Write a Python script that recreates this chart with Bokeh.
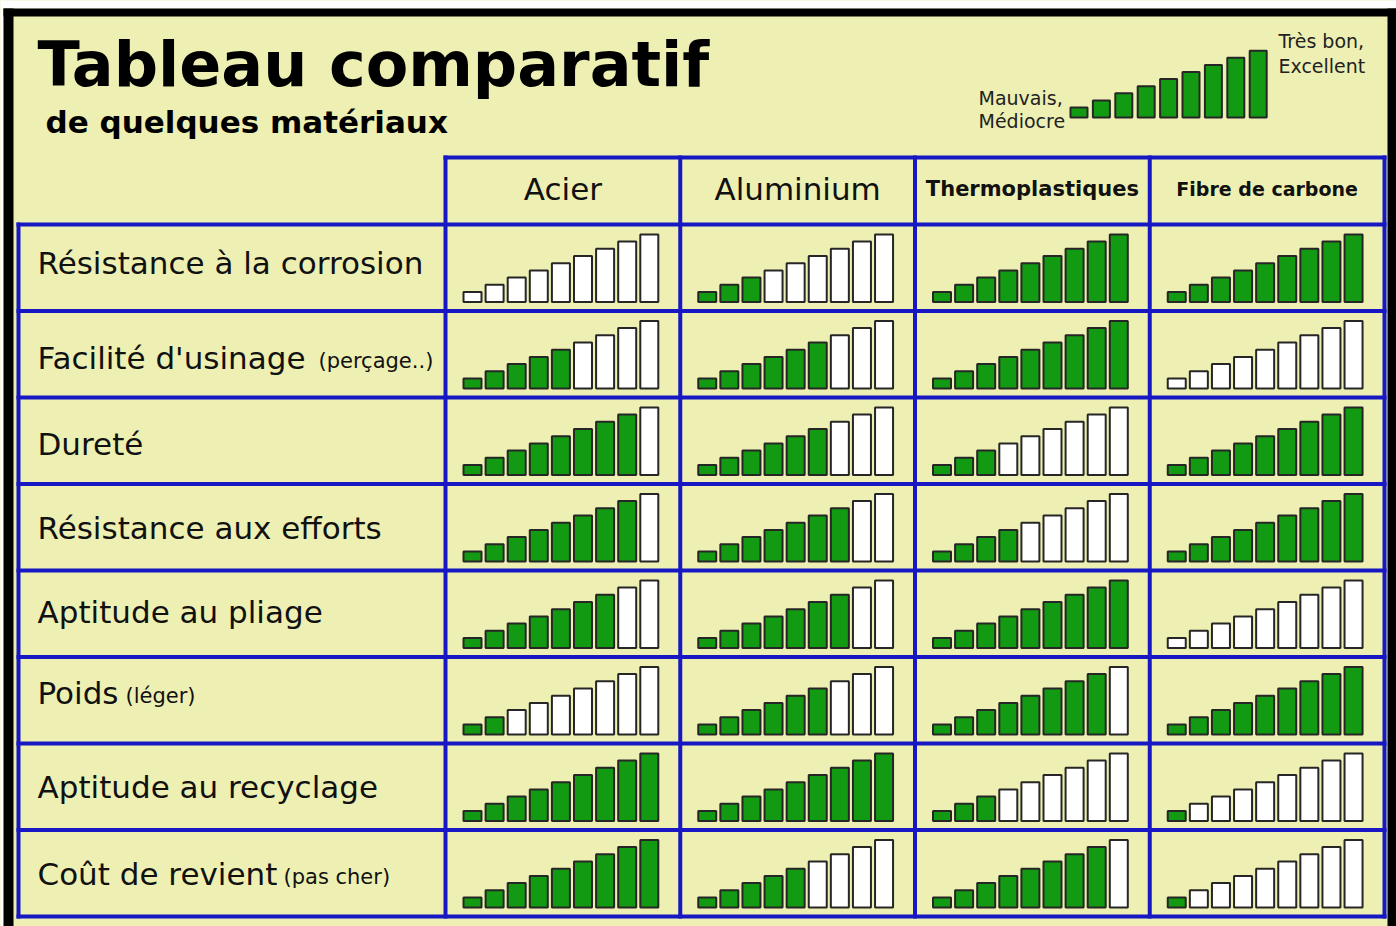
from bokeh.plotting import figure
from bokeh.models import Range1d, ColumnDataSource
from bokeh.core.properties import value
from bokeh.embed import file_html
from bokeh.resources import INLINE

# ---------------- data ----------------
title = "Tableau comparatif"
subtitle = "de quelques matériaux"
materials = ["Acier", "Aluminium", "Thermoplastiques", "Fibre de carbone"]
criteria = ["Résistance à la corrosion", "Facilité d'usinage", "Dureté",
            "Résistance aux efforts", "Aptitude au pliage", "Poids",
            "Aptitude au recyclage", "Coût de revient"]
criteria_notes = ["", "(perçage..)", "", "", "", "(léger)", "", "(pas cher)"]
# number of filled (green) bars out of 9, per criterion
acier = [0, 5, 8, 8, 7, 2, 9, 9]
aluminium = [3, 6, 6, 7, 7, 6, 9, 5]
thermoplastiques = [9, 9, 3, 4, 9, 8, 3, 8]
fibre_carbone = [9, 0, 9, 9, 0, 9, 1, 1]
levels = 9
legend_low = ["Mauvais,", "Médiocre"]
legend_high = ["Très bon,", "Excellent"]

ratings = [acier, aluminium, thermoplastiques, fibre_carbone]

# ---------------- style / layout ----------------
FONT = "DejaVu Sans"
BG = "#EDF0B2"
BLUE = "#1717C4"
GREEN = "#129A12"
EDGE = "#262626"
W, H = 1396, 926

table_left = 18
col_left0 = 445
col_w = 234.75
head_top = 157
body_top = 224
row_h = 86.5
n_rows = len(criteria)
n_cols = len(materials)
table_right = col_left0 + n_cols * col_w
body_bottom = body_top + n_rows * row_h

bar_step = 22.1
bar_w = 18
bar_h0 = 10
bar_dh = 7.2
bar_pad_left = 18
bar_pad_bottom = 9

p = figure(width=W, height=H, x_range=Range1d(0, W), y_range=Range1d(H, 0),
           output_backend="svg", toolbar_location=None,
           x_axis_location=None, y_axis_location=None, min_border=0)
p.grid.visible = False
p.outline_line_color = None
p.background_fill_color = BG
p.border_fill_color = BG

# white page edges and black frame (top, left, right)
p.quad(left=[0, 0], right=[W, 3], top=[0, 0], bottom=[8, H],
       fill_color="white", line_color=None)
p.quad(left=[3, 3, 1387], right=[W, 13, W], top=[8, 8, 8], bottom=[16, H, H],
       fill_color="black", line_color=None)

# ---------------- bars ----------------
L, R, T, B, F = [], [], [], [], []
for r in range(n_rows):
    base = body_top + (r + 1) * row_h - bar_pad_bottom
    for c in range(n_cols):
        x0 = col_left0 + c * col_w + bar_pad_left
        filled = ratings[c][r]
        for i in range(levels):
            L.append(x0 + i * bar_step)
            R.append(x0 + i * bar_step + bar_w)
            B.append(base)
            T.append(base - (bar_h0 + i * bar_dh))
            F.append(GREEN if i < filled else "white")
p.quad(source=ColumnDataSource(dict(left=L, right=R, top=T, bottom=B, fill=F)),
       left="left", right="right", top="top", bottom="bottom",
       fill_color="fill", line_color=EDGE, line_width=2)

# legend bars (all levels filled)
lg_x0, lg_base, lg_step = 1070, 117, 22.4
p.quad(left=[lg_x0 + i * lg_step for i in range(levels)],
       right=[lg_x0 + i * lg_step + 17 for i in range(levels)],
       bottom=[lg_base] * levels,
       top=[lg_base - (bar_h0 + i * 7.1) for i in range(levels)],
       fill_color=GREEN, line_color=EDGE, line_width=2)

# ---------------- grid lines ----------------
x0s, y0s, x1s, y1s = [], [], [], []
x0s.append(col_left0); x1s.append(table_right); y0s.append(head_top); y1s.append(head_top)
for k in range(n_rows + 1):
    y = body_top + k * row_h
    x0s.append(table_left); x1s.append(table_right); y0s.append(y); y1s.append(y)
x0s.append(table_left); x1s.append(table_left); y0s.append(body_top); y1s.append(body_bottom)
for c in range(n_cols + 1):
    x = col_left0 + c * col_w
    x0s.append(x); x1s.append(x); y0s.append(head_top); y1s.append(body_bottom)
p.segment(x0=x0s, y0=y0s, x1=x1s, y1=y1s, line_color=BLUE, line_width=4, line_cap="square")

# ---------------- texts ----------------
p.text(x=[37], y=[64], text=[title], text_font=value(FONT), text_font_style="bold",
       text_font_size=value("62px"), text_color="black", text_baseline="middle")
p.text(x=[45], y=[121], text=[subtitle], text_font=value(FONT), text_font_style="bold",
       text_font_size=value("31px"), text_color="black", text_baseline="middle")

# legend labels
p.text(x=[1278, 1278], y=[40, 65], text=legend_high, text_font=value(FONT),
       text_font_size=value("19px"), text_color="#222222", text_baseline="middle")
p.text(x=[978, 978], y=[97, 120], text=legend_low, text_font=value(FONT),
       text_font_size=value("19px"), text_color="#222222", text_baseline="middle")

# headers
head_sizes = ["31px", "31px", "21px", "19px"]
head_styles = ["normal", "normal", "bold", "bold"]
for c in range(n_cols):
    p.text(x=[col_left0 + (c + 0.5) * col_w], y=[head_top + (body_top - head_top) / 2 - 2],
           text=[materials[c]], text_font=value(FONT), text_font_style=head_styles[c],
           text_font_size=value(head_sizes[c]), text_color="#111111",
           text_align="center", text_baseline="middle")

# row labels
label_dy = [-5, 4, 3, 1, -2, -7, 0, 1]
note_x = [None, 318, None, None, None, 125, None, 283]
for r in range(n_rows):
    ym = body_top + (r + 0.5) * row_h + label_dy[r]
    p.text(x=[37], y=[ym], text=[criteria[r]], text_font=value(FONT),
           text_font_size=value("31px"), text_color="#111111", text_baseline="middle")
    if criteria_notes[r]:
        p.text(x=[note_x[r]], y=[ym + 3], text=[criteria_notes[r]], text_font=value(FONT),
               text_font_size=value("21px"), text_color="#111111", text_baseline="middle")

open("out.html", "w").write(file_html(p, INLINE))
